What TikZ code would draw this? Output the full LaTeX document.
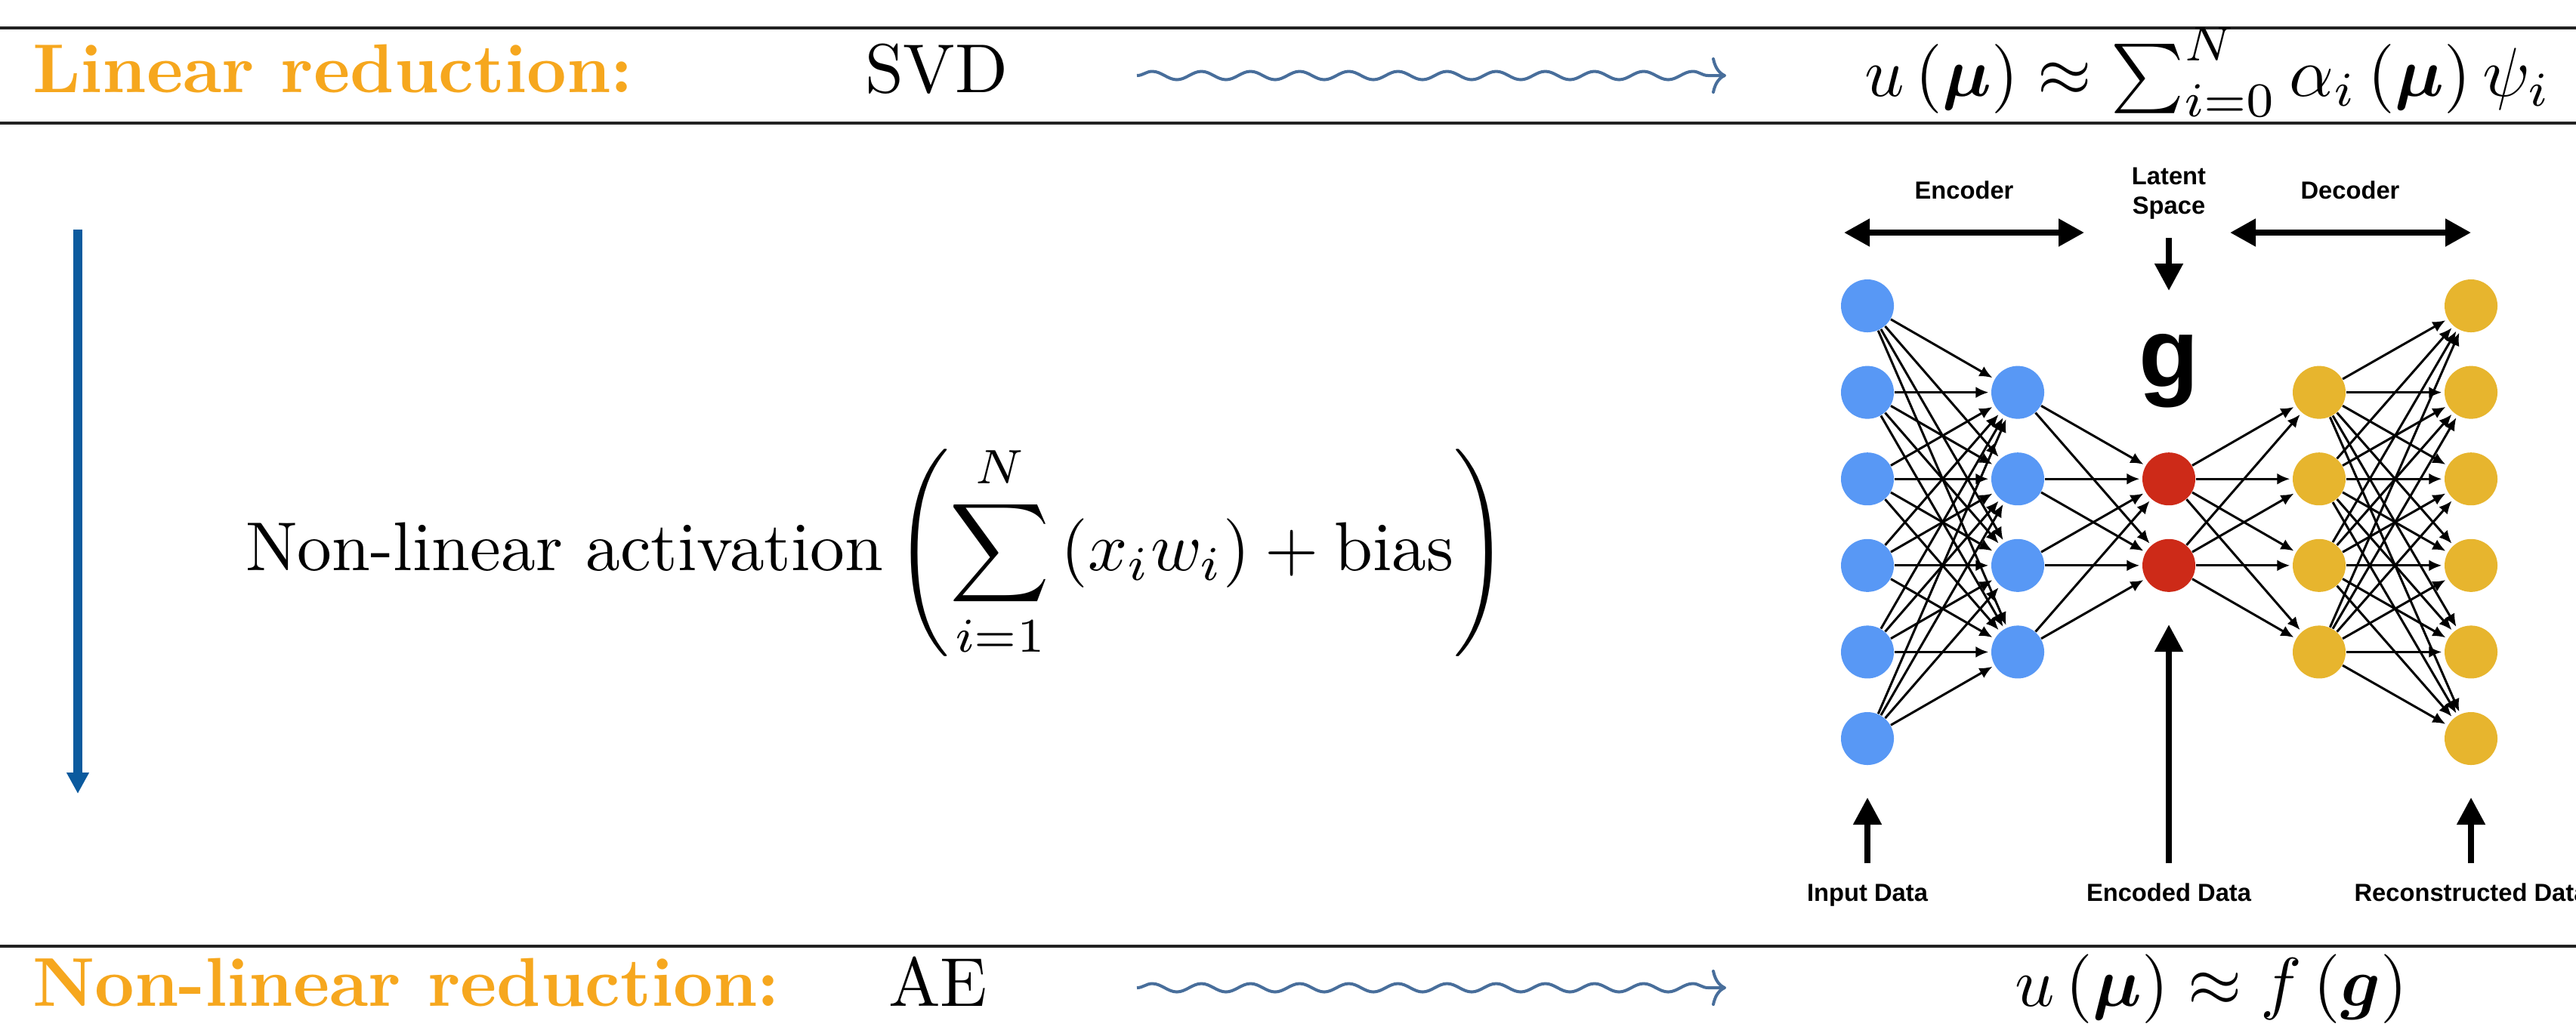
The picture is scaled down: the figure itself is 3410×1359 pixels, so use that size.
\documentclass[tikz,border=0pt]{standalone}
\usepackage{amsmath,bm,graphicx}
\usepackage[no-math]{fontspec}
\newfontfamily\nnfont{Liberation Sans}
\usetikzlibrary{arrows.meta,decorations.pathmorphing}
\definecolor{orangeT}{HTML}{F6A71E}
\definecolor{waveC}{HTML}{486E9B}
\definecolor{downC}{HTML}{0B5A9E}
\definecolor{nblue}{HTML}{5898F5}
\definecolor{nred}{HTML}{CD2A18}
\definecolor{nyellow}{HTML}{E7B52E}
\definecolor{ruleC}{HTML}{222222}
\newcommand{\sbig}[1]{\scalebox{2.603}{#1}}
\newcommand{\stopf}[1]{\scalebox{2.61}{#1}}
\tikzset{
  rulel/.style={draw=ruleC, line width=0.4mm},
  big/.style={inner sep=0pt, outer sep=0pt},
  wavy/.style={draw=waveC, line width=0.4mm, decorate,
    decoration={snake, amplitude=0.55mm, segment length=6.5mm},
    -{Computer Modern Rightarrow[length=1.9mm, width=4.8mm]}},
  bluedown/.style={draw=downC, line width=1.1mm, -{Triangle[length=2.8mm, width=2.8mm]}},
  thick arrow/.style={draw=black, line width=0.8mm, -{Triangle[length=3.6mm, width=3.6mm]}},
  dthick arrow/.style={draw=black, line width=0.8mm, {Triangle[length=3.4mm, width=3.5mm]}-{Triangle[length=3.4mm, width=3.5mm]}},
  neuron/.style={circle, inner sep=0pt, minimum size=7mm, draw=none},
  nin/.style={neuron, fill=nblue},
  nlat/.style={neuron, fill=nred},
  nout/.style={neuron, fill=nyellow},
  edge/.style={draw=black, line width=0.3mm, shorten >=0.3mm, -{Latex[length=1.7mm, width=1.5mm]}},
  nnlabel/.style={inner sep=0pt, font=\nnfont\bfseries\fontsize{9.3}{11}\selectfont},
}
\begin{document}
\begin{tikzpicture}[x=0.01cm, y=-0.01cm]
\useasboundingbox (0,0) rectangle (3410,1359);
\clip (0,0) rectangle (3410,1359);

% horizontal rules
\coordinate (r1a) at (0,37);   \coordinate (r1b) at (3410,37);
\coordinate (r2a) at (0,163);  \coordinate (r2b) at (3410,163);
\coordinate (r3a) at (0,1253); \coordinate (r3b) at (3410,1253);
\draw[rulel] (r1a) -- (r1b);
\draw[rulel] (r2a) -- (r2b);
\draw[rulel] (r3a) -- (r3b);

% top row
\node[big, anchor=base west, text=orangeT] (lin) at (43,122) {\sbig{\bfseries Linear reduction:}};
\node[big, anchor=base west] (svd) at (1145,122) {\sbig{SVD}};
\node[big, anchor=base west] (f1) at (2468,127)
  {\stopf{$u\left(\boldsymbol{\mu}\right)\approx\sum_{i=0}^{N}\alpha_i\left(\boldsymbol{\mu}\right)\psi_i$}};
\coordinate (w1s) at (1505,100); \coordinate (w1e) at (2285,100);
\draw[wavy] (w1s) -- (w1e);

% bottom row
\node[big, anchor=base west, text=orangeT] (nlin) at (43,1332) {\sbig{\bfseries Non-linear reduction:}};
\node[big, anchor=base west] (ae) at (1176,1332) {\sbig{AE}};
\node[big, anchor=base west] (f2) at (2667,1332)
  {\sbig{$u\left(\boldsymbol{\mu}\right)\approx f\left(\boldsymbol{g}\right)$}};
\coordinate (w2s) at (1505,1308); \coordinate (w2e) at (2285,1308);
\draw[wavy] (w2s) -- (w2e);

% vertical blue arrow
\coordinate (bt) at (103,304); \coordinate (bb) at (103,1051);
\draw[bluedown] (bt) -- (bb);

% middle formula
\node[big, anchor=base west] (act) at (325,755)
  {\sbig{$\displaystyle \text{Non-linear activation}\left(\sum_{i=1}^{N}\left(x_iw_i\right)+\text{bias}\right)$}};

% neural network
\foreach \k in {1,...,6} {
  \node[nin]  (i\k) at (2472,{405+114.6*(\k-1)}) {};
  \node[nout] (o\k) at (3271,{405+114.6*(\k-1)}) {};
}
\foreach \k in {1,...,4} {
  \node[nin]  (h\k) at (2671,{405+114.6*\k}) {};
  \node[nout] (d\k) at (3070,{405+114.6*\k}) {};
}
\foreach \k in {1,2} {
  \node[nlat] (l\k) at (2871,{405+114.6*(\k+1)}) {};
}
\foreach \a in {1,...,6} \foreach \b in {1,...,4} \draw[edge] (i\a) -- (h\b);
\foreach \a in {1,...,4} \foreach \b in {1,2} \draw[edge] (h\a) -- (l\b);
\foreach \a in {1,2} \foreach \b in {1,...,4} \draw[edge] (l\a) -- (d\b);
\foreach \a in {1,...,4} \foreach \b in {1,...,6} \draw[edge] (d\a) -- (o\b);

% labels
\node[nnlabel, anchor=base] (enc) at (2600,263) {Encoder};
\node[nnlabel, anchor=base] (dec) at (3111,263) {Decoder};
\node[nnlabel, anchor=base] (lat1) at (2871,244) {Latent};
\node[nnlabel, anchor=base] (lat2) at (2871,283) {Space};
\node[inner sep=0pt, anchor=base, font=\nnfont\bfseries\fontsize{37}{40}\selectfont] (gg) at (2871,512) {g};
\node[nnlabel, anchor=base] (inp) at (2472,1193) {Input Data};
\node[nnlabel, anchor=base] (encd) at (2871,1193) {Encoded Data};
\node[nnlabel, anchor=base] (rec) at (3271,1193) {Reconstructed Data};

\coordinate (ea) at (2441,308); \coordinate (eb) at (2759,308);
\coordinate (da) at (2952,308); \coordinate (db) at (3271,308);
\draw[dthick arrow] (ea) -- (eb);
\draw[dthick arrow] (da) -- (db);
\coordinate (la) at (2871,315); \coordinate (lb) at (2871,385);
\draw[thick arrow] (la) -- (lb);
\coordinate (ia) at (2472,1143); \coordinate (ib) at (2472,1056);
\coordinate (ca) at (2871,1143); \coordinate (cb) at (2871,827);
\coordinate (ra) at (3271,1143); \coordinate (rb) at (3271,1056);
\draw[thick arrow] (ia) -- (ib);
\draw[thick arrow] (ca) -- (cb);
\draw[thick arrow] (ra) -- (rb);
\end{tikzpicture}
\end{document}
